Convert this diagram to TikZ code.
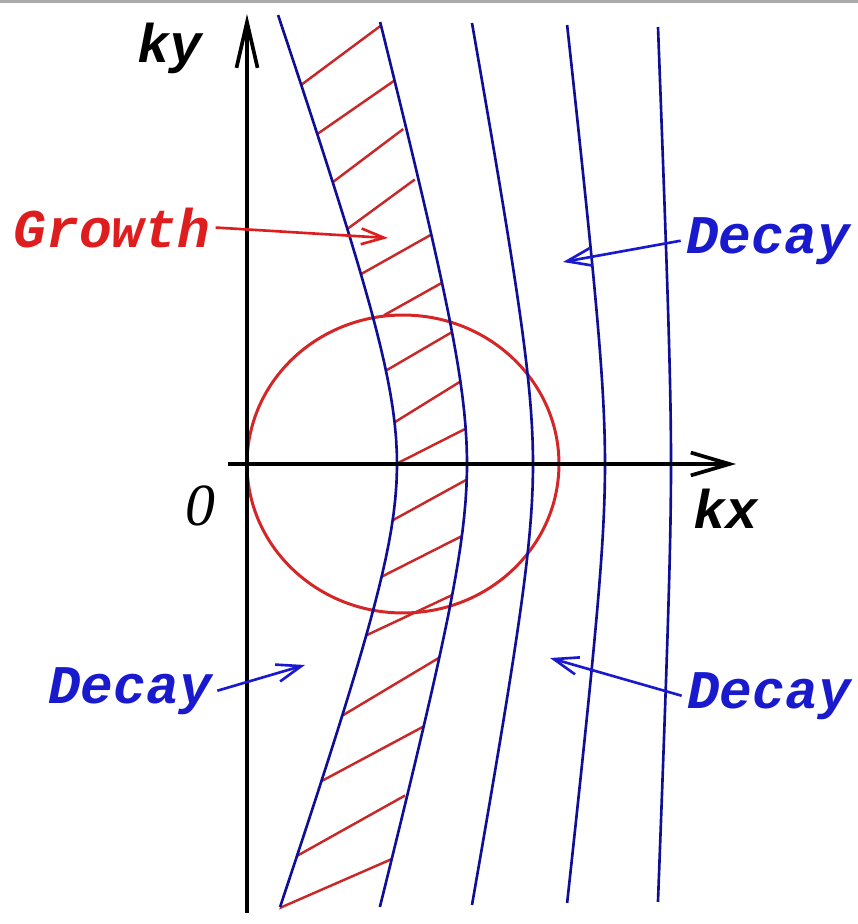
\documentclass[tikz,border=0pt]{standalone}
\usepackage{fontspec}
\newfontfamily\monofont{Liberation Mono}
\newfontfamily\zerofont{Liberation Serif}
\usetikzlibrary{arrows.meta, calc}
\definecolor{growRed}{RGB}{222,30,30}
\definecolor{circRed}{RGB}{212,38,38}
\definecolor{hatchRed}{RGB}{200,40,40}
\definecolor{decayBlue}{RGB}{25,25,205}
\definecolor{curveBlue}{RGB}{15,15,150}
\definecolor{barGray}{RGB}{170,170,170}

\begin{document}
\begin{tikzpicture}[
    x=0.02cm, y=-0.02cm,
    lbl/.style      ={font=\monofont\bfseries\itshape\fontsize{31}{36}\selectfont, inner sep=3pt, anchor=base},
    axisline/.style ={line width=2.1pt, draw=black},
    bandcurve/.style={line width=1.5pt, draw=curveBlue},
    hatchline/.style={line width=1.4pt, draw=hatchRed},
    redarrow/.style ={-{Straight Barb[length=13pt, width=9pt]}, line width=1.5pt, draw=growRed},
    bluearrow/.style={-{Straight Barb[length=14pt, width=10pt]}, line width=1.5pt, draw=decayBlue}
]
\useasboundingbox (0,0) rectangle (858,924);
\fill[barGray] (0,0) rectangle (858,3);
% hatching of the growth band
\begin{scope}
\clip plot[domain=-4.6:4.6, samples=60, variable=\t] ({397-34.5*(sqrt(\t*\t+1.44)-1.2)}, {464+100*\t})
   -- plot[domain=4.6:-4.6, samples=60, variable=\t] ({467-25.7*(sqrt(\t*\t+1.44)-1.2)}, {464+100*\t}) -- cycle;
\foreach \xa/\ya/\xb/\yb in {297/88/379/27, 313/137/388/85, 333/182/398/133, 350/227/410/183,
    363/273/427/237, 388/313/438/285, 387/370/447/335, 395/422/458/383, 398/463/463/430,
    395/519/466/480, 385/575/460/537, 367/635/448/597, 340/717/432/662, 318/783/417/730,
    295/857/397/800, 282/907/385/862}
  \draw[hatchline] ($(\xa,\ya)!-0.08!(\xb,\yb)$) -- ($(\xb,\yb)!-0.08!(\xa,\ya)$);
\end{scope}
\draw[circRed, line width=1.7pt] (403,464) ellipse [x radius=3.12cm, y radius=2.98cm];
% blue curves
\foreach \xo/\kk/\ta/\tb in {397/34.5/-4.49/4.43, 467/25.7/-4.42/4.43, 533/18.1/-4.41/4.41,
    605/11.3/-4.39/4.39, 671/3.9/-4.37/4.38}
  \draw[bandcurve] plot[domain=\ta:\tb, samples=60, variable=\t] ({\xo-\kk*(sqrt(\t*\t+1.44)-1.2)}, {464+100*\t});
% axes
\coordinate (yfoot) at (247,913);
\coordinate (ytip) at (247,14);
\draw[axisline, -{Straight Barb[length=26pt, width=12pt]}] (yfoot) -- (ytip);
\coordinate (xfoot) at (228,464);
\coordinate (xtip) at (736,464);
\draw[axisline, -{Straight Barb[length=22pt, width=13pt]}] (xfoot) -- (xtip);
\node[lbl] (ky) at (170,62) {ky};
\node[lbl] (kx) at (726,528) {kx};
\node[lbl, font=\zerofont\itshape\fontsize{34}{40}\selectfont] (origin) at (200,525) {0};
% labels
\node[lbl, text=growRed] (growth) at (112,247) {Growth};
\node[lbl, text=decayBlue] (decaytr) at (768,253) {Decay};
\node[lbl, text=decayBlue] (decaybl) at (130,703) {Decay};
\node[lbl, text=decayBlue] (decaybr) at (769,708) {Decay};
\coordinate (growthtip) at (388,238);
\coordinate (decaytrtip) at (563,262);
\coordinate (decaybltip) at (305,665);
\coordinate (decaybrtip) at (550,658);
\draw[redarrow] (growth.east) -- (growthtip);
\draw[bluearrow] (decaytr.west) -- (decaytrtip);
\draw[bluearrow] (decaybl.east) -- (decaybltip);
\draw[bluearrow] (decaybr.west) -- (decaybrtip);
\end{tikzpicture}
\end{document}
